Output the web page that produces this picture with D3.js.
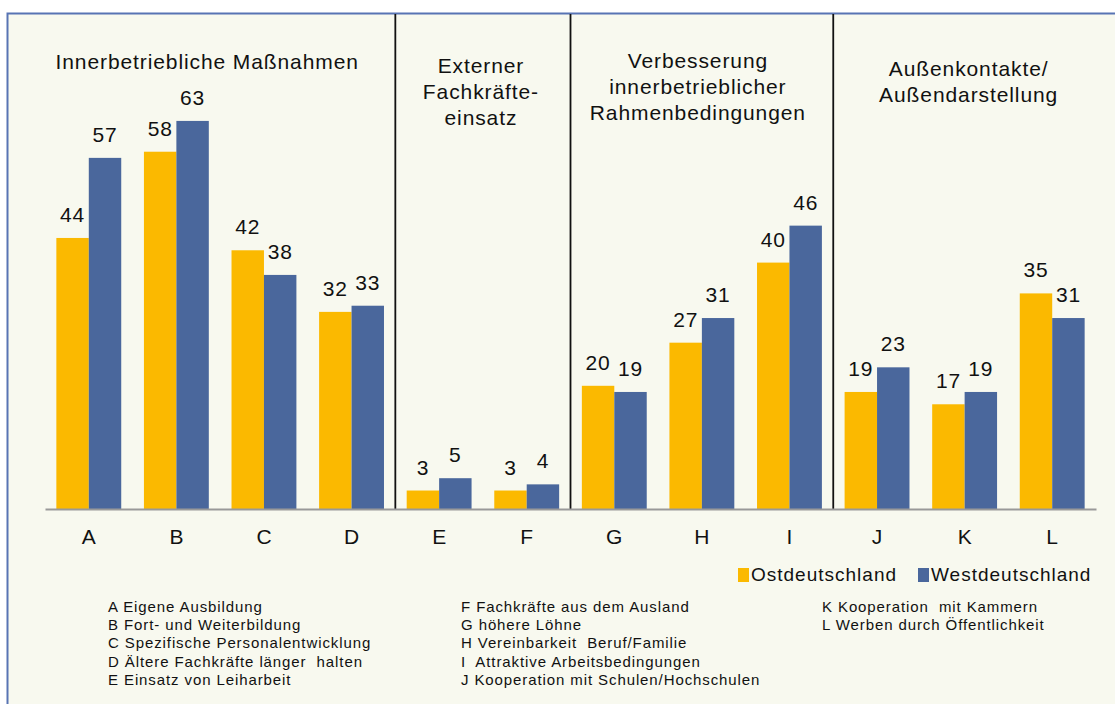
<!DOCTYPE html>
<html>
<head>
<meta charset="utf-8">
<script src="https://cdn.jsdelivr.net/npm/d3@7"></script>
<style>
    body { margin: 0; background: #fff; }
    svg { display: block; font-family: "Liberation Sans", Arial, sans-serif; }
    .footnote { white-space: pre; }
</style>
</head>
<body>
<svg class="chart"></svg>
<script>
const categories = ["A", "B", "C", "D", "E", "F", "G", "H", "I", "J", "K", "L"];
const series = ["Ostdeutschland", "Westdeutschland"];
const ostValues = [44, 58, 42, 32, 3, 3, 20, 27, 40, 19, 17, 35];
const westValues = [57, 63, 38, 33, 5, 4, 19, 31, 46, 23, 19, 31];

const groupHeaders = [
    ["Innerbetriebliche Maßnahmen"],
    ["Externer", "Fachkräfte-", "einsatz"],
    ["Verbesserung", "innerbetrieblicher", "Rahmenbedingungen"],
    ["Außenkontakte/", "Außendarstellung"]
];
const groupFirst = ["A", "E", "G", "J"];
const groupLast = ["D", "F", "I", "L"];

const notesCol1 = ["A Eigene Ausbildung", "B Fort- und Weiterbildung", "C Spezifische Personalentwicklung", "D Ältere Fachkräfte länger  halten", "E Einsatz von Leiharbeit"];
const notesCol2 = ["F Fachkräfte aus dem Ausland", "G höhere Löhne", "H Vereinbarkeit  Beruf/Familie", "I  Attraktive Arbeitsbedingungen", "J Kooperation mit Schulen/Hochschulen"];
const notesCol3 = ["K Kooperation  mit Kammern", "L Werben durch Öffentlichkeit"];

class Chart {
    constructor() {
        this.width = 1115;
        this.height = 704;
        this.colors = { "Ostdeutschland": "#fbb900", "Westdeutschland": "#4a679c" };
        this.svg = d3.select(".chart").attr("width", this.width).attr("height", this.height);
        this.baseY = 509;
        this.x = d3.scaleBand().domain(categories).range([45, 1096]).padding(0);
        this.xs = d3.scaleBand().domain(series).range([0, this.x.bandwidth()]).paddingInner(0).paddingOuter(0.35);
        this.y = d3.scaleLinear().domain([0, 70]).range([this.baseY, this.baseY - 70 * 6.16]);
        this.rows = categories.map((c, i) => ({ cat: c, values: [
            { key: series[0], value: ostValues[i] },
            { key: series[1], value: westValues[i] }
        ]}));
        this.drawFrame();
        this.drawBars();
        this.drawAxis();
        this.drawHeaders();
        this.drawLegend();
        this.drawNotes();
    }

    drawFrame() {
        this.svg.append("rect")
            .attr("x", 7.5).attr("y", 13.5)
            .attr("width", this.width + 20).attr("height", this.height + 20)
            .attr("fill", "#f8f9ef")
            .attr("stroke", "#5874b4")
            .attr("stroke-width", 2);
    }

    drawBars() {
        const g = this.svg.selectAll("g.cat").data(this.rows).enter().append("g")
            .attr("class", "cat")
            .attr("transform", (d) => "translate(" + this.x(d.cat) + ",0)");

        g.selectAll("rect").data((d) => d.values).enter().append("rect")
            .attr("x", (d) => this.xs(d.key))
            .attr("y", (d) => this.y(d.value))
            .attr("width", this.xs.bandwidth())
            .attr("height", (d) => this.baseY - this.y(d.value))
            .attr("fill", (d) => this.colors[d.key]);

        g.selectAll("text").data((d) => d.values).enter().append("text")
            .attr("x", (d) => this.xs(d.key) + this.xs.bandwidth() / 2)
            .attr("y", (d) => this.y(d.value) - 16)
            .attr("text-anchor", "middle")
            .attr("font-size", 21)
            .attr("letter-spacing", 0.8)
            .attr("fill", "#111")
            .text((d) => d.value);
    }

    drawAxis() {
        // group separators run from the frame top down to the baseline
        const seps = groupLast.slice(0, -1).map((c) => this.x(c) + this.x.bandwidth());
        this.svg.selectAll("line.sep").data(seps).enter().append("line")
            .attr("class", "sep")
            .attr("x1", (d) => d).attr("x2", (d) => d)
            .attr("y1", 14).attr("y2", this.baseY)
            .attr("stroke", "#111").attr("stroke-width", 1.8);

        const axis = this.svg.append("g")
            .attr("transform", "translate(0," + this.baseY + ")")
            .call(d3.axisBottom(this.x).tickSize(0).tickPadding(20));
        axis.select(".domain").attr("stroke", "#999").attr("stroke-width", 2);
        axis.selectAll("text")
            .attr("font-size", 21)
            .attr("font-family", "Liberation Sans, Arial, sans-serif")
            .attr("fill", "#111");
    }

    drawHeaders() {
        const firstBaseline = [69, 73, 68, 76];
        const shift = [-13, -2, -4, 4];
        groupHeaders.forEach((lines, i) => {
            const x0 = this.x(groupFirst[i]);
            const x1 = this.x(groupLast[i]) + this.x.bandwidth();
            const t = this.svg.append("text")
                .attr("text-anchor", "middle")
                .attr("font-size", 21)
                .attr("letter-spacing", 0.9)
                .attr("fill", "#111");
            lines.forEach((l, j) => {
                t.append("tspan")
                    .attr("x", (x0 + x1) / 2 + shift[i])
                    .attr("y", firstBaseline[i] + j * 26)
                    .text(l);
            });
        });
    }

    drawLegend() {
        const pos = [738, 918];
        const lg = this.svg.selectAll("g.legend").data(series).enter().append("g")
            .attr("class", "legend")
            .attr("transform", (d, i) => "translate(" + pos[i] + ",568)");
        lg.append("rect")
            .attr("width", 11).attr("height", 14)
            .attr("fill", (d) => this.colors[d]);
        lg.append("text")
            .attr("x", 13).attr("y", 13)
            .attr("font-size", 19)
            .attr("letter-spacing", 1)
            .attr("fill", "#111")
            .text((d) => d);
    }

    drawNotes() {
        const cols = [notesCol1, notesCol2, notesCol3];
        const colX = [108, 461, 822];
        cols.forEach((col, i) => {
            this.svg.append("g").selectAll("text").data(col).enter().append("text")
                .attr("class", "footnote")
                .attr("x", colX[i])
                .attr("y", (d, j) => 612 + j * 18.2)
                .attr("font-size", 15)
                .attr("letter-spacing", 0.9)
                .attr("fill", "#111")
                .text((d) => d);
        });
    }
}

new Chart();
</script>
</body>
</html>
